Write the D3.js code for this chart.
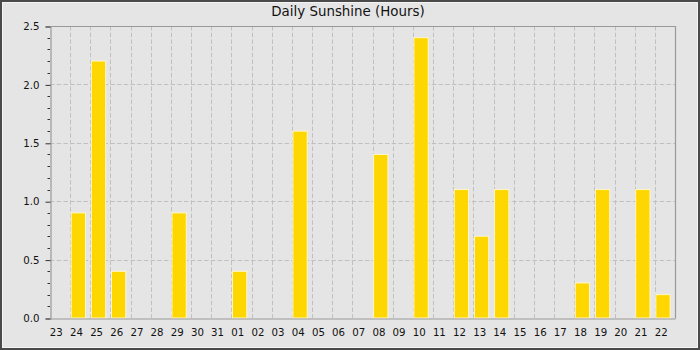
<!DOCTYPE html>
<html><head><meta charset="utf-8">
<script src="https://cdn.jsdelivr.net/npm/d3@7/dist/d3.min.js"></script>
<style>
html,body{margin:0;padding:0;background:#fff;}
svg{display:block;font-family:"DejaVu Sans",sans-serif;}
</style></head>
<body><svg id="c" width="700" height="350"></svg>
<script>
const categories = ["23","24","25","26","27","28","29","30","31","01","02","03","04","05","06","07","08","09","10","11","12","13","14","15","16","17","18","19","20","21","22"];
const sunshine = [0,0.9,2.2,0.4,0,0,0.9,0,0,0.4,0,0,1.6,0,0,0,1.4,0,2.4,0,1.1,0.7,1.1,0,0,0,0.3,1.1,0,1.1,0.2];
const yTicks = [0,0.5,1.0,1.5,2.0,2.5];
const title = "Daily Sunshine (Hours)";

const svg = d3.select("#c");
const W = 700, H = 350;
const m = {left:50, right:25, top:26, bottom:32};
const x0 = m.left, x1 = W - m.right, y0 = H - m.bottom, y1 = m.top;

// background + frame
svg.append("rect").attr("x",0).attr("y",0).attr("width",W).attr("height",H).attr("fill","#4a4a4a");
svg.append("rect").attr("x",2).attr("y",2).attr("width",W-4).attr("height",H-4).attr("fill","#f4f4f4");
svg.append("rect").attr("x",3).attr("y",3).attr("width",W-6).attr("height",H-6).attr("fill","#e5e5e5");

const x = d3.scaleBand().domain(categories).range([x0,x1]).paddingInner(0).paddingOuter(0);
const y = d3.scaleLinear().domain([0,2.5]).range([y0,y1]);

// grid
const grid = svg.append("g").attr("stroke","#c0c0c0").attr("stroke-width",1).attr("stroke-dasharray","4.5,2.2");
categories.slice(1).forEach(c=>{
  const gx = Math.round(x(c))+0.5;
  grid.append("line").attr("x1",gx).attr("x2",gx).attr("y1",y1).attr("y2",y0);
});
yTicks.slice(1,-1).forEach(v=>{
  const gy = Math.round(y(v))+0.5;
  grid.append("line").attr("x1",x0).attr("x2",x1).attr("y1",gy).attr("y2",gy);
});

// bars
const bw = x.bandwidth()*0.71;
svg.append("g").selectAll("rect").data(categories.map((c,i)=>({c,v:sunshine[i]})).filter(d=>d.v>0))
  .join("rect")
  .attr("x",d=>x(d.c)+1)
  .attr("y",d=>y(d.v))
  .attr("width",bw)
  .attr("height",d=>y0-y(d.v))
  .attr("fill","#ffd700")
  .attr("stroke","#fff6cc").attr("stroke-width",1);

// frame lines (top, right)
svg.append("path").attr("d",`M${x0+0.5},${y1+0.5}H${x1+0.5}V${y0+0.5}`).attr("fill","none").attr("stroke","#999").attr("stroke-width",1.2);

// y axis
const yAxis = d3.axisLeft(y).tickValues(yTicks).tickFormat(d3.format(".1f")).tickSize(5).tickPadding(6);
const gy = svg.append("g").attr("transform",`translate(${x0+0.5},0.5)`).call(yAxis);
gy.select(".domain").attr("stroke","#999").attr("stroke-width",1.2);
gy.selectAll(".tick line").attr("stroke","#333");
gy.selectAll("text").attr("font-size","10.2px").attr("fill","#111").attr("font-family","DejaVu Sans");
// minor ticks
const minor = d3.range(0,2.501,0.1).filter(v=>Math.abs(v*2-Math.round(v*2))>1e-6);
svg.append("g").selectAll("line").data(minor).join("line")
  .attr("x1",x0-2.5).attr("x2",x0).attr("y1",d=>Math.round(y(d))+0.5).attr("y2",d=>Math.round(y(d))+0.5)
  .attr("stroke","#333");

// x axis
const xAxis = d3.axisBottom(x).tickSize(0).tickPadding(10);
const gx = svg.append("g").attr("transform",`translate(0,${y0+0.5})`).call(xAxis);
gx.select(".domain").attr("stroke","#999").attr("stroke-width",1.2);
gx.selectAll(".tick").attr("transform",d=>`translate(${x(d)+6.3},0)`);
gx.selectAll("text").attr("font-size","10.2px").attr("fill","#111").attr("font-family","DejaVu Sans");

// title
svg.append("text").attr("x",(271+425)/2).attr("y",16).attr("text-anchor","middle")
  .attr("font-size","13.4px").attr("fill","#111").text(title);
</script></body></html>
